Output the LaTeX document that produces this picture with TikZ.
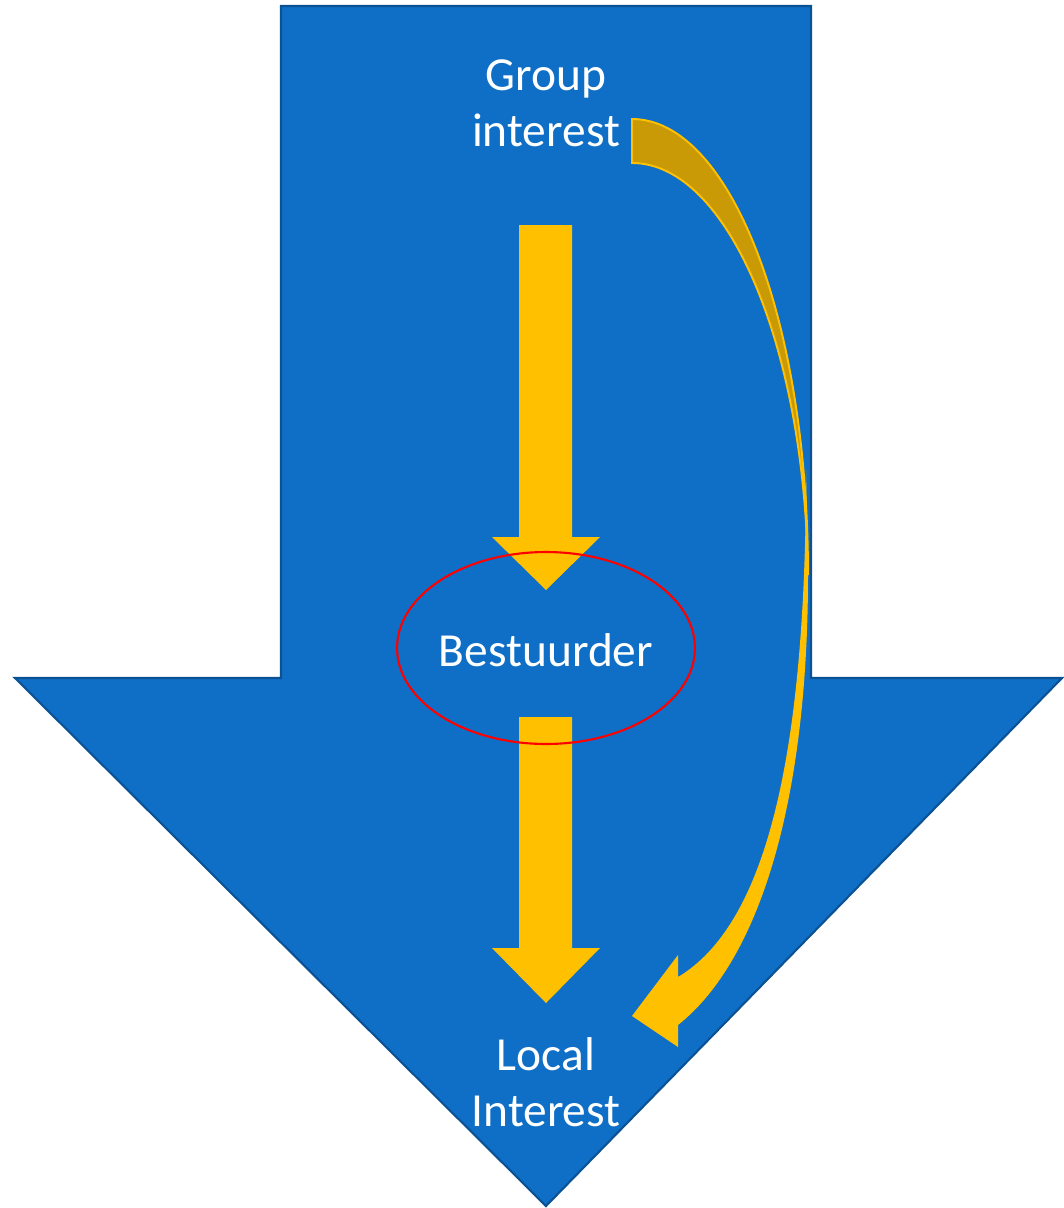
\documentclass[tikz,border=0pt]{standalone}
\usepackage{fontspec}
\setmainfont{Carlito}
\usetikzlibrary{shapes.geometric}
\definecolor{flowblue}{HTML}{0F6FC6}
\definecolor{flowedge}{HTML}{0B5294}
\definecolor{gold}{HTML}{FFC000}
\definecolor{darkgold}{HTML}{C99A06}
\tikzset{
  bigarrow/.style={fill=flowblue, draw=flowedge, line width=1.2pt, line join=miter},
  blockarrow/.style={fill=gold, draw=none},
  backface/.style={fill=darkgold, draw=gold, line width=1.1pt},
  label/.style={text=white, font=\fontsize{27}{31.7}\selectfont, align=center, inner sep=0pt},
  ring/.style={ellipse, draw=red, line width=1.2pt, minimum width=5.96cm, minimum height=3.84cm, inner sep=0pt}
}
\begin{document}
\begin{tikzpicture}[x=0.02cm, y=-0.02cm]
\useasboundingbox (0,0) rectangle (1063,1208);

% large downward arrow
\draw[bigarrow] (281,6) -- (811,6) -- (811,678) -- (1062,678) -- (546,1206)
  -- (15,678) -- (281,678) -- cycle;

% upper block arrow
\fill[blockarrow] (519,225) -- (572,225) -- (572,537) -- (600,537) -- (546,590)
  -- (492,537) -- (519,537) -- cycle;

% lower block arrow
\fill[blockarrow] (519,717) -- (572,717) -- (572,948) -- (600,948) -- (546,1003)
  -- (492,948) -- (519,948) -- cycle;

% curved arrow: back face, tapering to a point
\draw[backface] (632,119) .. controls (729,119) and (808,317) .. (808,575)
  .. controls (805,345) and (727,163) .. (632,163) -- cycle;

% curved arrow: front face with head
\fill[gold] (806,470) -- (808,575) .. controls (808,800) and (760,960) .. (678,1025)
  -- (678,1047) -- (632,1016) -- (678,955) -- (678,977)
  .. controls (765,925) and (806,760) .. (806,470) -- cycle;

% texts
\node[label] (group) at (546,103) {Group\\interest};
\node[ring] (bestuurder) at (546,648) {};
\node[label] (btext) at (546,650) {Bestuurder};
\node[label] (local) at (546,1082) {Local\\Interest};
\end{tikzpicture}
\end{document}
